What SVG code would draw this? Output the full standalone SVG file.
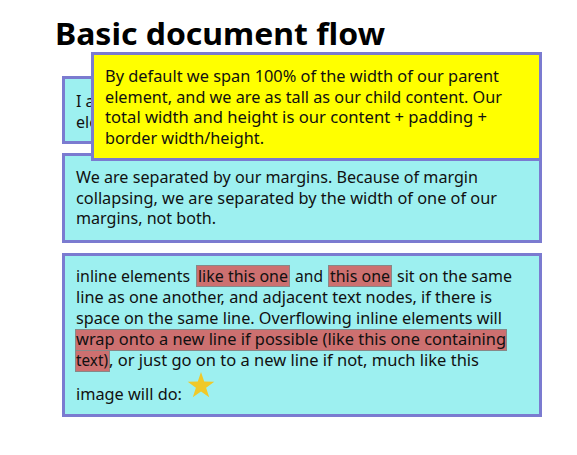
<svg xmlns="http://www.w3.org/2000/svg" width="577" height="455" viewBox="0 0 577 455">
<style>
.box{fill:#9df0f0;stroke:#7b7bd0;stroke-width:3}
.yel{fill:#ffff00;stroke:#7b7bd0;stroke-width:3}
.t{font-family:"Noto Sans","Open Sans",sans-serif;font-size:16px;fill:#111}
.h{font-family:"Noto Sans","Open Sans",sans-serif;font-size:31px;font-weight:bold;fill:#000}
.hl{fill:#cd7070;stroke:#888;stroke-width:1}
</style>
<rect width="577" height="455" fill="#fff"/>
<g id="title"><text class="h" x="55" y="45" textLength="330" lengthAdjust="spacingAndGlyphs">Basic document flow</text></g>
<g id="box1">
<rect class="box" x="63.5" y="77.5" width="477" height="65"/>
<text class="t" x="76" y="107">I a</text>
<text class="t" x="76" y="128">ele</text>
</g>
<g id="box2">
<rect class="box" x="63.5" y="154.5" width="477" height="87"/>
<text class="t" x="76" y="183" textLength="402" lengthAdjust="spacingAndGlyphs">We are separated by our margins. Because of margin</text>
<text class="t" x="76" y="204" textLength="421" lengthAdjust="spacingAndGlyphs">collapsing, we are separated by the width of one of our</text>
<text class="t" x="76" y="224" textLength="140" lengthAdjust="spacingAndGlyphs">margins, not both.</text>
</g>
<g id="yellow">
<rect class="yel" x="92.5" y="53.5" width="448" height="106"/>
<text class="t" x="105" y="82" textLength="394" lengthAdjust="spacingAndGlyphs">By default we span 100% of the width of our parent</text>
<text class="t" x="105" y="103" textLength="397" lengthAdjust="spacingAndGlyphs">element, and we are as tall as our child content. Our</text>
<text class="t" x="105" y="123" textLength="382" lengthAdjust="spacingAndGlyphs">total width and height is our content + padding +</text>
<text class="t" x="105" y="144" textLength="159" lengthAdjust="spacingAndGlyphs">border width/height.</text>
</g>
<g id="box3">
<rect class="box" x="63.5" y="254.5" width="477" height="161"/>
<rect class="hl" x="196.5" y="265.5" width="93" height="21"/>
<rect class="hl" x="328.5" y="265.5" width="63" height="21"/>
<rect class="hl" x="75.5" y="329.5" width="431" height="21"/>
<rect class="hl" x="75.5" y="350.5" width="34" height="21"/>
<text class="t" x="76" y="282" textLength="114" lengthAdjust="spacingAndGlyphs">inline elements</text>
<text class="t" x="198" y="282" textLength="90" lengthAdjust="spacingAndGlyphs">like this one</text>
<text class="t" x="295" y="282" textLength="28" lengthAdjust="spacingAndGlyphs">and</text>
<text class="t" x="330" y="282" textLength="60" lengthAdjust="spacingAndGlyphs">this one</text>
<text class="t" x="397" y="282" textLength="115" lengthAdjust="spacingAndGlyphs">sit on the same</text>
<text class="t" x="76" y="303" textLength="416" lengthAdjust="spacingAndGlyphs">line as one another, and adjacent text nodes, if there is</text>
<text class="t" x="76" y="324" textLength="426" lengthAdjust="spacingAndGlyphs">space on the same line. Overflowing inline elements will</text>
<text class="t" x="76" y="345" textLength="430" lengthAdjust="spacingAndGlyphs">wrap onto a new line if possible (like this one containing</text>
<text class="t" x="76" y="366" textLength="32" lengthAdjust="spacingAndGlyphs">text)</text>
<text class="t" x="109" y="366" textLength="370" lengthAdjust="spacingAndGlyphs">, or just go on to a new line if not, much like this</text>
<text class="t" x="76" y="400" textLength="106" lengthAdjust="spacingAndGlyphs">image will do:</text>
<polygon fill="#f0c929" points="201,372 204.2,381.6 214.3,381.7 206.1,387.7 209.2,397.3 201,391.4 192.8,397.3 195.9,387.7 187.7,381.7 197.8,381.6"/>
</g>
</svg>
